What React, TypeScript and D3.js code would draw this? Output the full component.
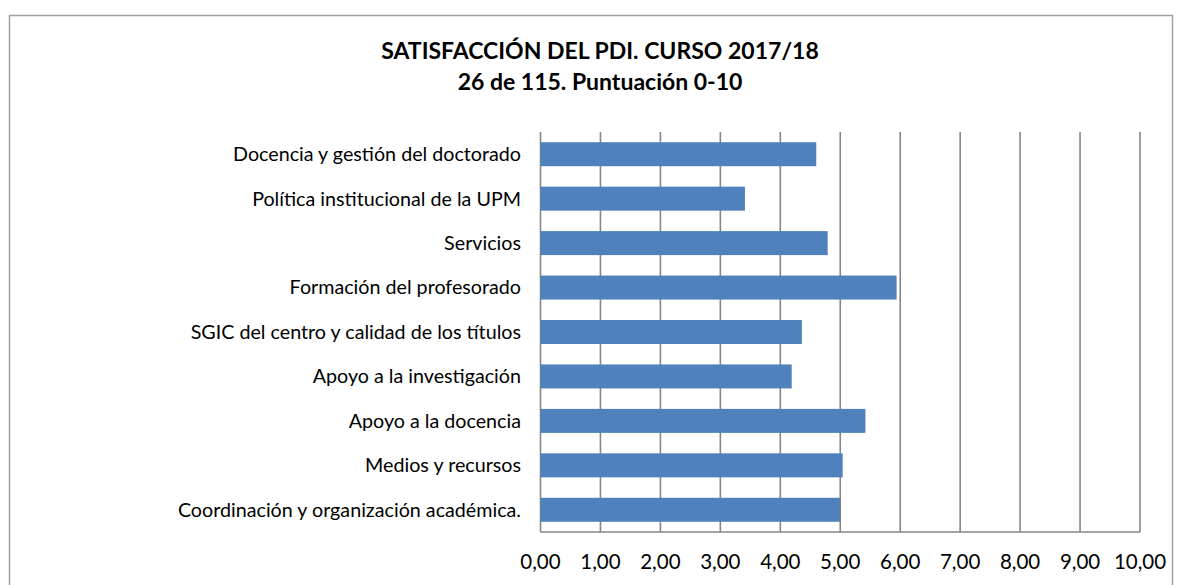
import React from "react";
import * as d3 from "d3";

const categories = [
  "Docencia y gestión del doctorado",
  "Política institucional de la UPM",
  "Servicios",
  "Formación del profesorado",
  "SGIC del centro y calidad de los títulos",
  "Apoyo a la investigación",
  "Apoyo a la docencia",
  "Medios y recursos",
  "Coordinación y organización académica.",
];
const values = [4.6, 3.41, 4.79, 5.94, 4.36, 4.19, 5.42, 5.04, 5.0];
const ticks = [0, 1, 2, 3, 4, 5, 6, 7, 8, 9, 10];
const titleLines = ["SATISFACCIÓN DEL PDI. CURSO 2017/18", "26 de 115. Puntuación 0-10"];

const W = 1183;
const H = 585;
const FONT = "Lato, 'Open Sans', sans-serif";

export default function App() {
  const x = d3.scaleLinear().domain([0, 10]).range([540.5, 1140]);
  const y = d3.scaleBand<string>().domain(categories).range([132, 532]).paddingInner(0.46).paddingOuter(0.23);
  const fmt = (v: number) => d3.format(".2f")(v).replace(".", ",");
  return (
    <svg width={W} height={H} style={{ position: "absolute", left: 0, top: 0 }}>
      <rect x={0} y={0} width={W} height={H} fill="#fff" />
      <rect x={9.5} y={15.5} width={1163} height={600} fill="#fff" stroke="#a0a0a0" strokeWidth={1.5} />
      {titleLines.map((t, i) => (
        <text key={i} x={600} y={59 + i * 31} textAnchor="middle" fontFamily={FONT} fontWeight="bold" fontSize={23} fill="#000">
          {t}
        </text>
      ))}
      {ticks.map((t) => (
        <line key={"g" + t} x1={x(t)} x2={x(t)} y1={132} y2={532} stroke="#868686" strokeWidth={1.6} />
      ))}
      <line x1={x(0)} x2={x(10)} y1={532} y2={532} stroke="#868686" strokeWidth={1.6} />
      {categories.map((c, i) => (
        <rect key={c} x={x(0)} y={y(c)!} width={x(values[i]) - x(0)} height={y.bandwidth()} fill="#4f81bd" />
      ))}
      {categories.map((c) => (
        <text key={"l" + c} x={521} y={y(c)! + y.bandwidth() / 2} dy="0.35em" textAnchor="end" fontFamily={FONT} fontSize={19.7} fill="#000">
          {c}
        </text>
      ))}
      {ticks.map((t) => (
        <text key={"t" + t} x={x(t)} y={569} textAnchor="middle" fontFamily={FONT} fontSize={20.5} fill="#000">
          {fmt(t)}
        </text>
      ))}
    </svg>
  );
}
